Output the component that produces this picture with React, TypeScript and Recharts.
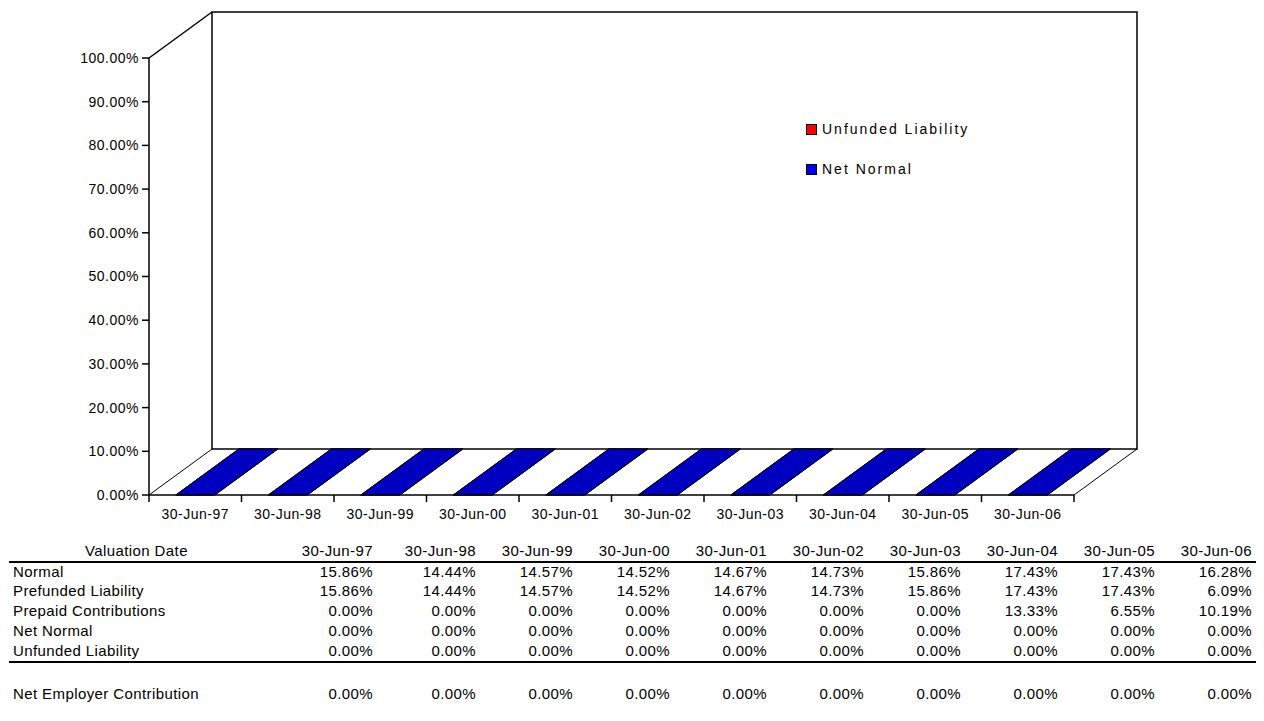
import React from 'react';
import { BarChart, Bar, XAxis, YAxis } from 'recharts';

const dates = ['30-Jun-97', '30-Jun-98', '30-Jun-99', '30-Jun-00', '30-Jun-01', '30-Jun-02', '30-Jun-03', '30-Jun-04', '30-Jun-05', '30-Jun-06'];
const normal = [15.86, 14.44, 14.57, 14.52, 14.67, 14.73, 15.86, 17.43, 17.43, 16.28];
const prefundedLiability = [15.86, 14.44, 14.57, 14.52, 14.67, 14.73, 15.86, 17.43, 17.43, 6.09];
const prepaidContributions = [0, 0, 0, 0, 0, 0, 0, 13.33, 6.55, 10.19];
const netNormal = [0, 0, 0, 0, 0, 0, 0, 0, 0, 0];
const unfundedLiability = [0, 0, 0, 0, 0, 0, 0, 0, 0, 0];
const netEmployerContribution = [0, 0, 0, 0, 0, 0, 0, 0, 0, 0];
const yTicks = [0, 10, 20, 30, 40, 50, 60, 70, 80, 90, 100];

// stacking order: unfunded at the bottom, net normal on top (legend lists them in this order)
const series = [
    { key: 'unfunded', name: 'Unfunded Liability', color: '#FF0000' },
    { key: 'netNormal', name: 'Net Normal', color: '#0000C0' },
];

const chartData = dates.map((date, i) => ({
    date,
    unfunded: unfundedLiability[i],
    netNormal: netNormal[i],
}));

const tableRows = [
    { label: 'Normal', values: normal },
    { label: 'Prefunded Liability', values: prefundedLiability },
    { label: 'Prepaid Contributions', values: prepaidContributions },
    { label: 'Net Normal', values: netNormal },
    { label: 'Unfunded Liability', values: unfundedLiability },
];

const FONT = '"Liberation Sans", Arial, sans-serif';
const W = 1264;
const H = 530;
const TOP = 58;
const RIGHT_M = 190;
const YAXIS_W = 149;
const XAXIS_H = 35;
const DX = 63;
const DY = -46;

const LEFT = YAXIS_W;
const RIGHT = W - RIGHT_M;
const BOTTOM = H - XAXIS_H;

const pct = (v: number) => v.toFixed(2) + '%';

// 3d box walls behind the bars
const Walls = () => (
    <g>
        <rect x={LEFT + DX} y={TOP + DY} width={RIGHT - LEFT} height={BOTTOM - TOP} fill="#fff" stroke="#000" strokeWidth={1.5} />
        <line x1={LEFT} y1={TOP} x2={LEFT + DX} y2={TOP + DY} stroke="#000" strokeWidth={1.5} />
        <line x1={LEFT} y1={BOTTOM} x2={LEFT + DX} y2={BOTTOM + DY} stroke="#000" strokeWidth={1} />
        <line x1={RIGHT} y1={BOTTOM} x2={RIGHT + DX} y2={BOTTOM + DY} stroke="#000" strokeWidth={1} />
    </g>
);

const Bar3D = (props: any) => {
    const { x, y, width, height, fill } = props;
    if (x == null || y == null) return null;
    const h = Math.max(0, height || 0);
    return (
        <g>
            {h > 0 && <rect x={x} y={y} width={width} height={h} fill={fill} stroke="#000" />}
            <polygon
                points={`${x},${y} ${x + width},${y} ${x + width + DX},${y + DY} ${x + DX},${y + DY}`}
                fill={fill}
                stroke="#000"
                strokeWidth={1}
            />
        </g>
    );
};

const DateTick = (props: any) => {
    const { x, y, payload, index, visibleTicksCount } = props;
    const half = payload.offset || 0;
    return (
        <g>
            <line x1={x - half} y1={y} x2={x - half} y2={y + 7} stroke="#000" strokeWidth={1.5} />
            {index === visibleTicksCount - 1 && (
                <line x1={x + half} y1={y} x2={x + half} y2={y + 7} stroke="#000" strokeWidth={1.5} />
            )}
            <text x={x} y={y + 24} textAnchor="middle" fontSize={14} letterSpacing={0.5} fill="#000" fontFamily={FONT}>
                {payload.value}
            </text>
        </g>
    );
};

const colRight = (i: number) => (i === 0 ? 373 : 1252 - (9 - i) * 97);
const rowTop = (center: number) => center - 9;

const cellStyle: React.CSSProperties = {
    position: 'absolute',
    lineHeight: '18px',
    height: 18,
    whiteSpace: 'nowrap',
    fontSize: 15,
    letterSpacing: 0.4,
};

const App: React.FC = () => {
    const rowCenters = [572, 591, 611, 631, 651];
    return (
        <div style={{ position: 'absolute', left: 0, top: 0, width: 1264, height: 721, background: '#fff', fontFamily: FONT, color: '#000' }}>
            <div style={{ position: 'absolute', left: 0, top: 0 }}>
                <BarChart width={W} height={H} data={chartData} margin={{ top: TOP, right: RIGHT_M, left: 0, bottom: 0 }} barCategoryGap="29%">
                    <Walls />
                    <XAxis
                        dataKey="date"
                        height={XAXIS_H}
                        tickLine={false}
                        tickSize={0}
                        tickMargin={0}
                        axisLine={{ stroke: '#000', strokeWidth: 1.5 }}
                        tick={<DateTick />}
                        interval={0}
                    />
                    <YAxis
                        width={YAXIS_W}
                        domain={[0, 100]}
                        ticks={yTicks}
                        tickFormatter={pct}
                        tickSize={7}
                        tickMargin={3}
                        tickLine={{ stroke: '#000', strokeWidth: 1.5 }}
                        axisLine={{ stroke: '#000', strokeWidth: 1.5 }}
                        tick={{ fill: '#000', fontSize: 14, fontFamily: FONT, letterSpacing: 0.5 }}
                        interval={0}
                    />
                    {series.map((s) => (
                        <Bar key={s.key} dataKey={s.key} name={s.name} stackId="a" fill={s.color} shape={<Bar3D />} isAnimationActive={false} />
                    ))}
                </BarChart>
            </div>

            <div style={{ position: 'absolute', left: 806, top: 119, fontSize: 14, letterSpacing: 2 }}>
                {series.map((s) => (
                    <div key={s.key} style={{ display: 'flex', alignItems: 'center', height: 20, marginBottom: 20 }}>
                        <span style={{ display: 'inline-block', width: 9, height: 9, background: s.key === 'netNormal' ? '#0000F0' : s.color, border: '1px solid #000', marginRight: 5 }} />
                        <span style={{ whiteSpace: 'nowrap' }}>{s.name}</span>
                    </div>
                ))}
            </div>

            <div style={{ ...cellStyle, left: 85, top: rowTop(551) }}>Valuation Date</div>
            {dates.map((d, i) => (
                <div key={d} style={{ ...cellStyle, right: W - colRight(i), top: rowTop(551), textAlign: 'right' }}>{d}</div>
            ))}
            <div style={{ position: 'absolute', left: 9, width: 1247, top: 561, height: 2, background: '#000' }} />

            {tableRows.map((row, r) => (
                <React.Fragment key={row.label}>
                    <div style={{ ...cellStyle, left: 13, top: rowTop(rowCenters[r]) }}>{row.label}</div>
                    {row.values.map((v, i) => (
                        <div key={i} style={{ ...cellStyle, right: W - colRight(i), top: rowTop(rowCenters[r]), textAlign: 'right' }}>{pct(v)}</div>
                    ))}
                </React.Fragment>
            ))}
            <div style={{ position: 'absolute', left: 9, width: 1247, top: 661, height: 2, background: '#000' }} />

            <div style={{ ...cellStyle, left: 13, top: rowTop(694) }}>Net Employer Contribution</div>
            {netEmployerContribution.map((v, i) => (
                <div key={i} style={{ ...cellStyle, right: W - colRight(i), top: rowTop(694), textAlign: 'right' }}>{pct(v)}</div>
            ))}
        </div>
    );
};

export default App;
